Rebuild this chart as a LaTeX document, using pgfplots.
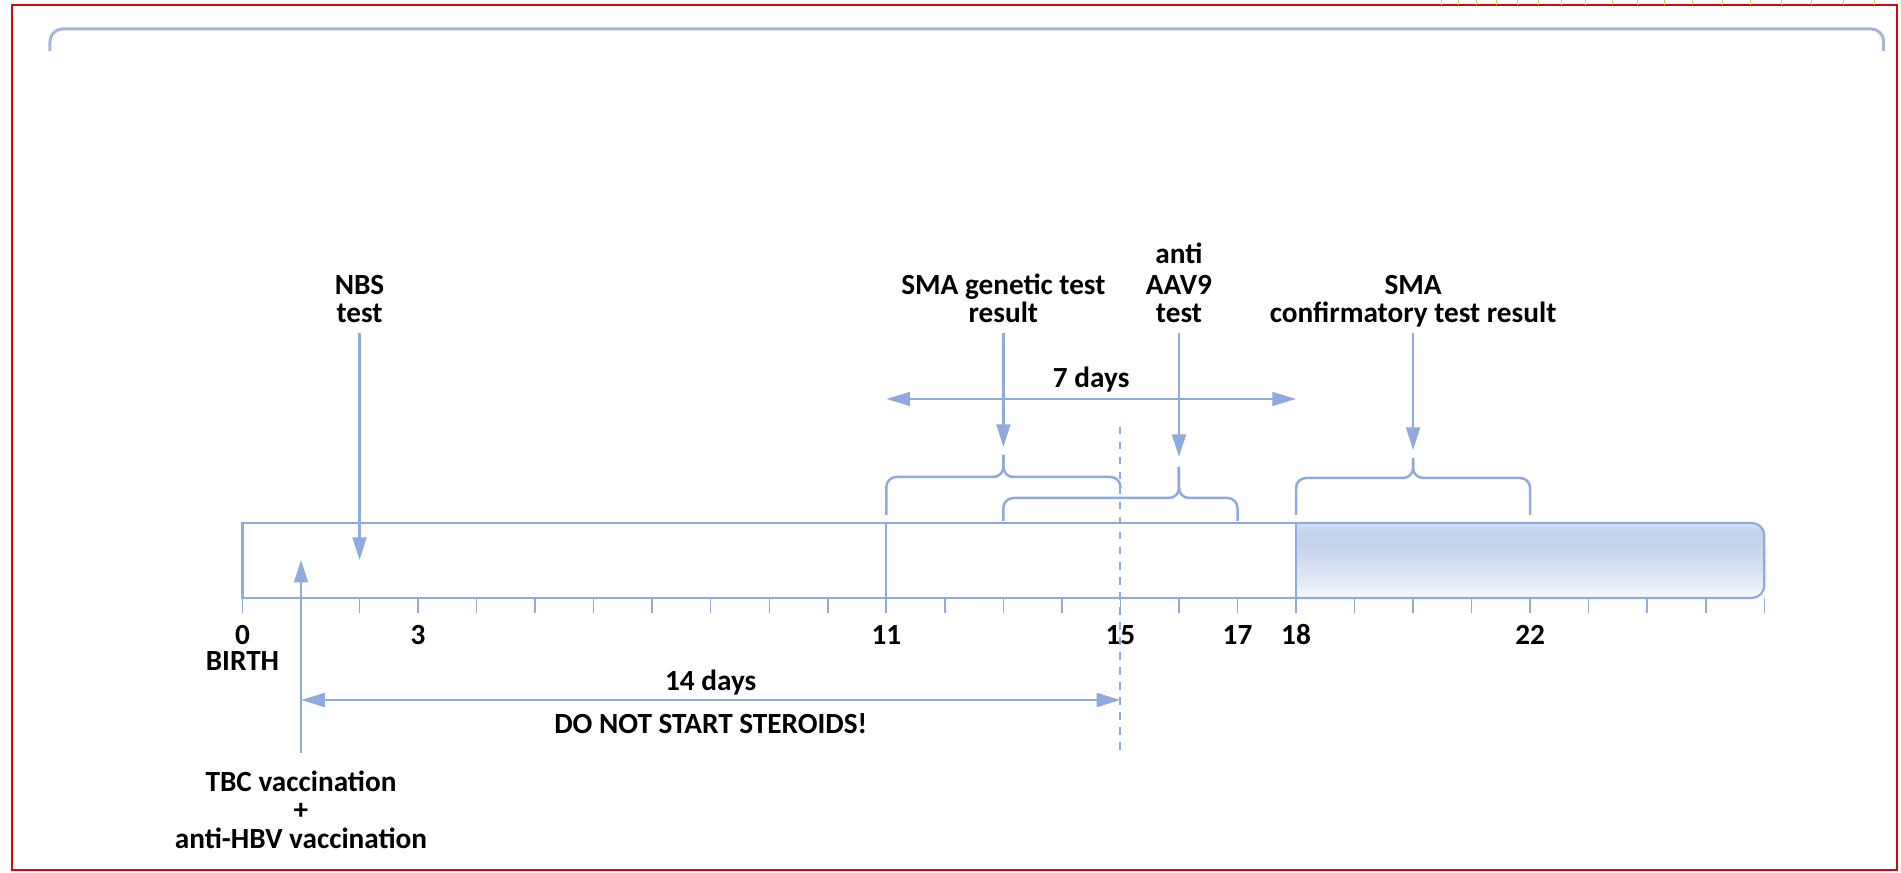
\documentclass[border=0pt]{standalone}
\usepackage{pgfplots}
\pgfplotsset{compat=1.18}
\usepackage{fontspec}
\setmainfont{Carlito}
\usetikzlibrary{arrows.meta}
\definecolor{lb}{RGB}{143,170,220}
\definecolor{bracketc}{RGB}{165,182,214}
\definecolor{framec}{RGB}{204,10,10}
\definecolor{orng}{RGB}{245,185,110}
\definecolor{c0}{RGB}{248,250,253}
\definecolor{c1}{RGB}{222,231,245}
\definecolor{c2}{RGB}{196,212,237}
\definecolor{c3}{RGB}{218,228,243}
\pgfdeclareverticalshading{barshade}{100bp}{color(0bp)=(c0); color(25bp)=(c0); color(38bp)=(c1); color(60bp)=(c2); color(70bp)=(c2); color(75bp)=(c3); color(100bp)=(c3)}
\begin{document}
\begin{tikzpicture}[
  lbl/.style={font=\fontsize{11.7}{13}\selectfont\bfseries, inner sep=0pt, anchor=base},
  arr/.style={-{Triangle[length=9pt,width=5.5pt]}},
  darr/.style={{Triangle[length=9.5pt,width=5.5pt]}-{Triangle[length=9.5pt,width=5.5pt]}}]
\begin{axis}[width=760.4pt, height=349.2pt, scale only axis, hide axis, clip=false,
  xmin=-4.143, xmax=28.336, ymin=0, ymax=873, y dir=reverse]

\path (rel axis cs:0,0) rectangle (rel axis cs:1,1);

% red frame
\draw[framec, line width=0.8pt] (axis cs:-3.938,5) rectangle (axis cs:28.27,870);
% orange marks above frame
\addplot[only marks, mark=|, mark size=1pt, mark options={orng, line width=0.4pt}] coordinates {
 (20.49,2.5) (20.78,2.5) (21.09,2.5) (21.43,2.5) (21.79,2.5) (22.15,2.5) (22.54,2.5) (22.95,2.5) (23.40,2.5)
 (23.84,2.5) (24.30,2.5) (24.78,2.5) (25.28,2.5) (25.77,2.5) (26.30,2.5) (26.81,2.5) (27.35,2.5) (27.89,2.5)};

% top bracket
\draw[bracketc, line width=1.2pt, rounded corners=5pt] (axis cs:-3.289,51) -- (axis cs:-3.289,29) -- (axis cs:28.04,29) -- (axis cs:28.04,51);

% timeline bar
\draw[lb, line width=0.9pt, fill=white] (axis cs:18,523) -- (axis cs:0,523) -- (axis cs:0,598) -- (axis cs:18,598);
\shadedraw[shading=barshade, draw=lb, line width=0.9pt, rounded corners=5pt] (axis cs:18,523) -- (axis cs:26,523) -- (axis cs:26,598) -- (axis cs:18,598);

% day 11 and 18 lines
\addplot[lb, line width=0.9pt] coordinates {(11,523) (11,613)};
\addplot[lb, line width=0.9pt] coordinates {(18,523) (18,613)};

% ticks
\addplot[only marks, mark=|, mark size=3pt, mark options={lb, line width=0.6pt}] coordinates {
 (0,605.5) (1,605.5) (2,605.5) (3,605.5) (4,605.5) (5,605.5) (6,605.5) (7,605.5) (8,605.5) (9,605.5)
 (10,605.5) (11,605.5) (12,605.5) (13,605.5) (14,605.5) (15,605.5) (16,605.5) (17,605.5) (18,605.5)
 (19,605.5) (20,605.5) (21,605.5) (22,605.5) (23,605.5) (24,605.5) (25,605.5) (26,605.5)};

% tick labels
\node[lbl] at (axis cs:0,645) {0};
\node[lbl] at (axis cs:3,645) {3};
\node[lbl] at (axis cs:11,645) {11};
\node[lbl] at (axis cs:15,645) {15};
\node[lbl] at (axis cs:17,645) {17};
\node[lbl] at (axis cs:18,645) {18};
\node[lbl] at (axis cs:22,645) {22};
\node[lbl] at (axis cs:0,671) {BIRTH};

% dashed day-15 line
\addplot[lb, line width=0.8pt, dash pattern=on 3pt off 3pt] coordinates {(15,427) (15,753)};

% braces
\draw[lb, line width=1pt, rounded corners=4pt] (axis cs:13,455) -- (axis cs:13,477) -- (axis cs:11,477) -- (axis cs:11,515);
\draw[lb, line width=1pt, rounded corners=4pt] (axis cs:13,455) -- (axis cs:13,477) -- (axis cs:15,477) -- (axis cs:15,488);
\draw[lb, line width=1pt, rounded corners=4pt] (axis cs:16,467) -- (axis cs:16,498) -- (axis cs:13,498) -- (axis cs:13,521);
\draw[lb, line width=1pt, rounded corners=4pt] (axis cs:16,467) -- (axis cs:16,498) -- (axis cs:17,498) -- (axis cs:17,521);
\draw[lb, line width=1pt, rounded corners=4pt] (axis cs:20,458) -- (axis cs:20,478) -- (axis cs:18,478) -- (axis cs:18,515);
\draw[lb, line width=1pt, rounded corners=4pt] (axis cs:20,458) -- (axis cs:20,478) -- (axis cs:22,478) -- (axis cs:22,515);

% event arrows
\addplot[lb, line width=1pt, arr] coordinates {(2,333) (2,560)};
\addplot[lb, line width=1pt, arr] coordinates {(13,333) (13,447)};
\addplot[lb, line width=1pt, arr] coordinates {(16,333) (16,457)};
\addplot[lb, line width=1pt, arr] coordinates {(20,333) (20,450)};
\addplot[lb, line width=1pt, arr] coordinates {(1,753) (1,560)};

% span arrows
\addplot[lb, line width=1pt, darr] coordinates {(11,399) (18,399)};
\addplot[lb, line width=1pt, darr] coordinates {(1,700) (15,700)};

% texts
\node[lbl] at (axis cs:2,295) {NBS};
\node[lbl] at (axis cs:2,322) {test};
\node[lbl] at (axis cs:13,295) {SMA genetic test};
\node[lbl] at (axis cs:13,322) {result};
\node[lbl] at (axis cs:16,264) {anti};
\node[lbl] at (axis cs:16,295) {AAV9};
\node[lbl] at (axis cs:16,322) {test};
\node[lbl] at (axis cs:20,295) {SMA};
\node[lbl] at (axis cs:20,322) {confirmatory test result};
\node[lbl] at (axis cs:14.5,388) {7 days};
\node[lbl] at (axis cs:8,691) {14 days};
\node[lbl] at (axis cs:8,734) {DO NOT START STEROIDS!};
\node[lbl] at (axis cs:1,792) {TBC vaccination};
\node[lbl] at (axis cs:1,820) {+};
\node[lbl] at (axis cs:1,849) {anti-HBV vaccination};
\end{axis}
\end{tikzpicture}
\end{document}
